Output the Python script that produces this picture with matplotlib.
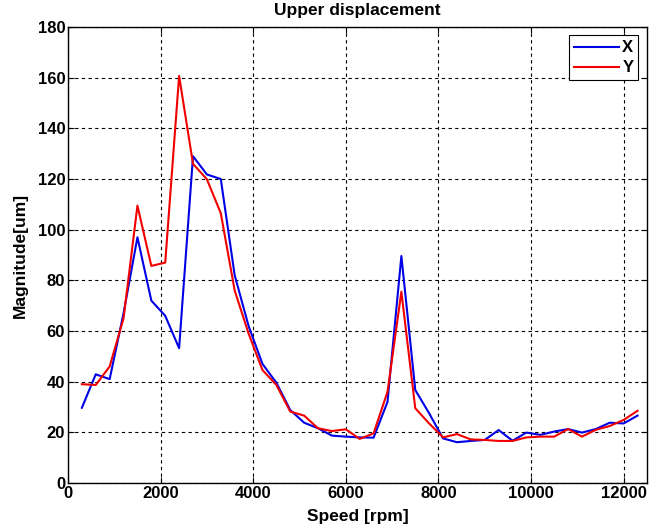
import numpy as np
import matplotlib
matplotlib.use("Agg")
import matplotlib.pyplot as plt

speed = np.arange(300, 12301, 300)

mag_x = [29.7, 42.9, 41.0, 67.0, 97.0, 72.0, 66.0, 53.2, 129.0, 121.8,
         120.0, 82.0, 62.0, 47.0, 39.6, 28.8, 23.8, 21.6, 18.7, 18.3,
         18.0, 17.9, 32.0, 89.6, 36.7, 27.5, 17.6, 16.1, 16.6, 17.0,
         20.9, 16.7, 19.9, 19.0, 20.3, 21.3, 19.9, 21.3, 23.8, 23.5,
         26.6]
mag_y = [39.0, 38.7, 46.0, 65.0, 109.5, 85.7, 87.0, 160.7, 126.0, 119.9,
         106.5, 76.0, 59.0, 44.6, 38.7, 28.2, 26.6, 21.6, 20.5, 21.2,
         17.4, 19.6, 36.0, 75.5, 29.5, 23.5, 18.0, 19.3, 17.2, 17.0,
         16.6, 16.6, 18.0, 18.3, 18.3, 21.3, 18.3, 21.0, 22.5, 24.9,
         28.5]

xticks = [0, 2000, 4000, 6000, 8000, 10000, 12000]
yticks = [0, 20, 40, 60, 80, 100, 120, 140, 160, 180]

plt.rcParams['font.family'] = ['Liberation Sans', 'DejaVu Sans']
plt.rcParams['font.weight'] = 'bold'

fig = plt.figure(figsize=(6.6, 5.31), dpi=100)
ax = fig.add_axes([0.103, 0.0904, 0.877, 0.8587])

ax.plot(speed, mag_x, color=(0, 0, 0.9), lw=1.5, label="X")
ax.plot(speed, mag_y, color=(0.95, 0, 0), lw=1.5, label="Y")

ax.set_xlim(0, 12500)
ax.set_ylim(0, 180)
ax.set_xticks(xticks)
ax.set_yticks(yticks)
ax.tick_params(direction="in", labelsize=12, length=4, top=True, right=True, pad=2)
for lbl in ax.get_xticklabels() + ax.get_yticklabels():
    lbl.set_fontweight("bold")

ax.grid(True, color="black", linestyle=(0, (3, 3)), linewidth=0.8)
for s in ax.spines.values():
    s.set_linewidth(1.0)

ax.set_title("Upper displacement", fontsize=12.5, fontweight="bold", pad=9)
ax.set_xlabel("Speed [rpm]", fontsize=12.5, fontweight="bold", labelpad=6)
ax.set_ylabel("Magnitude[um]", fontsize=12.5, fontweight="bold", labelpad=7)

leg = ax.legend(loc="upper right", fontsize=12, fancybox=False, framealpha=1,
                edgecolor="black", handlelength=2.7, borderaxespad=0.5,
                handletextpad=0.2, borderpad=0.3, labelspacing=0.3)
leg.get_frame().set_linewidth(0.8)

fig.savefig("out.png", dpi=100)
